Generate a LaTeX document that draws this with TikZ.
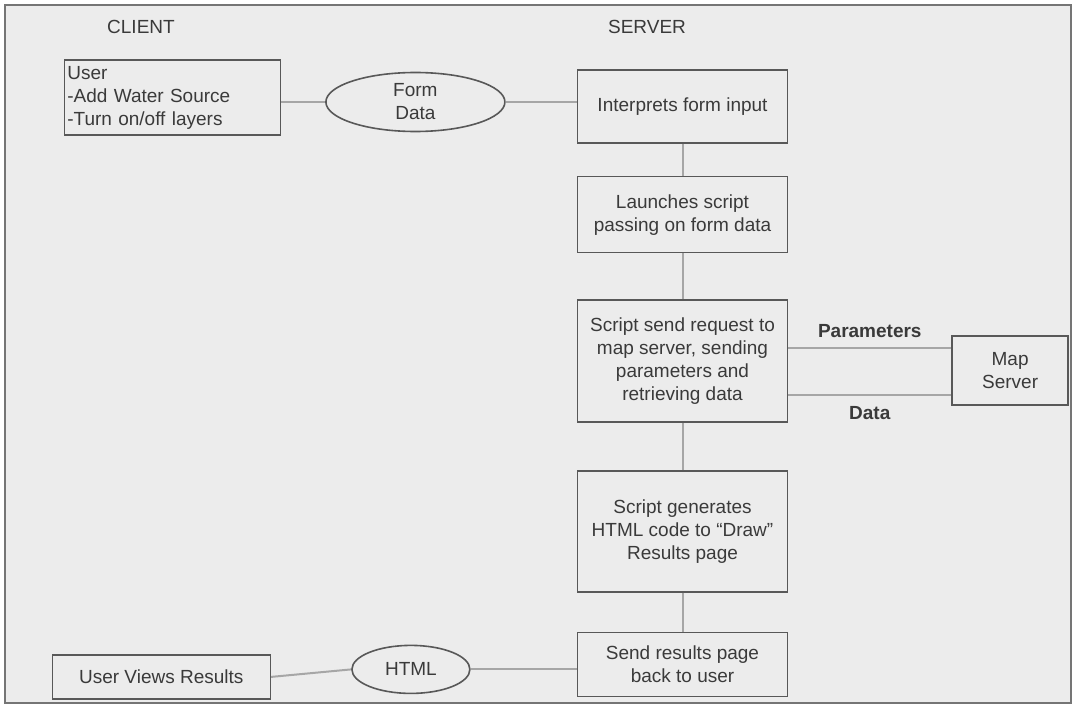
\documentclass[tikz,border=0pt]{standalone}
\usepackage{fontspec}
\setmainfont{Liberation Sans}
\usepackage{tikz}
\usetikzlibrary{positioning,shapes.geometric}
\definecolor{inkgray}{HTML}{3A3A3A}
\definecolor{linegray}{HTML}{A6A6A6}
\definecolor{paper}{HTML}{ECECEC}

\tikzset{
  stepbox/.style={draw=inkgray!85, line width=1.6pt, align=center, minimum width=210pt, inner sep=3pt},
  msgoval/.style={ellipse, draw=inkgray!85, line width=1.6pt, align=center, inner sep=0pt},
  wire/.style={draw=linegray, line width=2pt},
}

\begin{document}
\begin{tikzpicture}[x=1pt, y=1pt, text=inkgray, font=\fontsize{19}{23}\selectfont]
    \useasboundingbox (0,0) rectangle (1074,-706);
    \draw[fill=paper, draw=inkgray!70, line width=1.5pt] (5,-5) rectangle (1071,-703);

    \node (client) at (141,-27) {CLIENT};
    \node (server) at (647,-27) {SERVER};

    % server column
    \node[stepbox, minimum height=73pt] (interp) at (682.5,-106.5) {Interprets form input};
    \node[stepbox, minimum height=76pt, below=32pt of interp] (launch) {Launches script\\passing on form data};
    \node[stepbox, minimum height=122pt, below=46pt of launch] (request) {Script send request to\\map server, sending\\parameters and\\retrieving data};
    \node[stepbox, minimum height=121pt, below=47pt of request] (generate) {Script generates\\HTML code to “Draw”\\Results page};
    \node[stepbox, minimum height=64pt, below=39pt of generate] (sendback) {Send results page\\back to user};
    \node[stepbox, minimum width=116pt, minimum height=69pt, right=163pt of request, yshift=-9.5pt] (mapsrv) {Map\\Server};

    % client side
    \node[msgoval, minimum width=179pt, minimum height=59pt, left=71pt of interp, yshift=4.5pt] (formdata) {Form\\Data};
    \node[stepbox, align=left, text width=210pt, minimum height=75pt, left=44pt of formdata, yshift=4.5pt] (user) {User\\-Add Water Source\\-Turn on/off layers};
    \node[msgoval, minimum width=118pt, minimum height=48pt, left=106pt of sendback, yshift=-5pt] (html) {HTML};
    \node[stepbox, minimum width=218pt, minimum height=44pt, left=80pt of html, yshift=-7.5pt] (viewer) {User Views Results};

    \draw[wire] (user.east |- formdata.west) -- (formdata.west);
    \draw[wire] (formdata.east) -- (formdata.east -| interp.west);
    \draw[wire] (interp) -- (launch);
    \draw[wire] (launch) -- (request);
    \draw[wire] (request) -- (generate);
    \draw[wire] (generate) -- (sendback);
    \draw[wire] ([yshift=23pt]mapsrv.west -| request.east) -- ([yshift=23pt]mapsrv.west)
        node[midway, above=6pt, font=\fontsize{19}{23}\selectfont\bfseries] {Parameters};
    \draw[wire] ([yshift=-24.5pt]mapsrv.west -| request.east) -- ([yshift=-24.5pt]mapsrv.west)
        node[midway, below=7pt, font=\fontsize{19}{23}\selectfont\bfseries] {Data};
    \draw[wire] (html.east) -- (html.east -| sendback.west);
    \draw[wire] (viewer.east) -- (html.west);
\end{tikzpicture}
\end{document}
